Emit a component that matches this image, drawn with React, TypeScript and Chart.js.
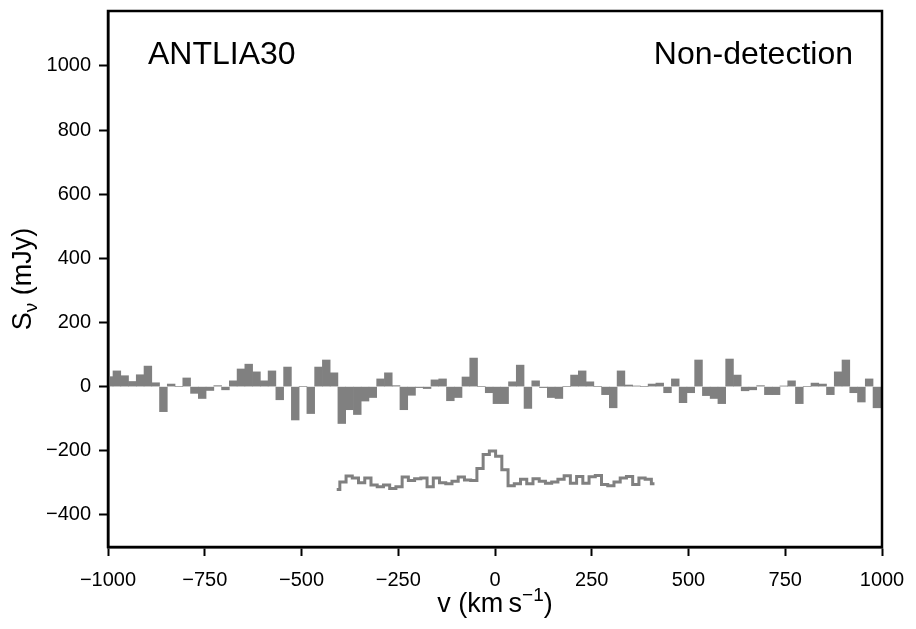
import React, { useEffect, useRef } from "react";
import { Chart, registerables } from "chart.js";

Chart.register(...registerables);

const FONT = "'Liberation Sans', Arial, Helvetica, sans-serif";

// Main spectrum (histogram) : channel centres from start + i*width
const channelStart = -997.1;
const channelWidth = 20.04;
const fluxValues = [
  31, 49, 34, 16, 37, 64, 12, -78, 8, 0,
  27, -21, -37, -12, 3, -10, 18, 55, 70, 46,
  18, 49, -41, 61, -104, 0, -84, 61, 83, 43,
  -115, -72, -87, -45, -34, 24, 43, 3, -72, -27,
  -3, -6, 21, 24, -44, -34, 30, 89, 0, -19,
  -53, -53, 15, 67, -68, 18, -3, -34, -37, 0,
  36, 49, 15, 0, -25, -66, 49, 5, 2, 0,
  8, 11, -19, 24, -50, -19, 83, -28, -37, -53,
  86, 36, -13, -10, 3, -25, -25, 2, 18, -53,
  0, 11, 8, -25, 46, 83, -19, -48, 24, -66,
];

// Offset comparison spectrum (step line)
const stackStart = -409;
const stackWidth = 16.1;
const stackValues = [
  -321, -297, -279, -285, -300, -285, -307, -312, -307, -318,
  -312, -282, -293, -287, -285, -312, -285, -300, -303, -295,
  -282, -291, -293, -255, -212, -201, -217, -259, -309, -303,
  -289, -303, -287, -295, -301, -297, -289, -278, -301, -280,
  -301, -281, -277, -305, -309, -297, -285, -280, -305, -285,
  -289, -303,
];

const xTicks = [-1000, -750, -500, -250, 0, 250, 500, 750, 1000];
const yTicks = [-400, -200, 0, 200, 400, 600, 800, 1000];
const xRange = [-1000, 1000];
const yRange = [-500, 1171];

const galaxyName = "ANTLIA30";
const statusLabel = "Non-detection";

const fmt = (v: number) => (v < 0 ? "\u2212" + Math.abs(v) : String(v));

type Part = { t: string; size: number; dy: number };

function drawParts(ctx: CanvasRenderingContext2D, parts: Part[], cx: number, y: number) {
  let total = 0;
  const widths = parts.map((p) => {
    ctx.font = `${p.size}px ${FONT}`;
    const w = ctx.measureText(p.t).width;
    total += w;
    return w;
  });
  let x = cx - total / 2;
  ctx.textAlign = "left";
  ctx.textBaseline = "alphabetic";
  parts.forEach((p, i) => {
    ctx.font = `${p.size}px ${FONT}`;
    ctx.fillText(p.t, x, y + p.dy);
    x += widths[i];
  });
}

const decorPlugin = {
  id: "decor",
  afterDraw(chart: any) {
    const { ctx, chartArea: a } = chart;
    ctx.save();
    ctx.strokeStyle = "#000";
    ctx.lineWidth = 2.5;
    ctx.strokeRect(a.left, a.top, a.right - a.left, a.bottom - a.top);

    ctx.fillStyle = "#000";
    ctx.font = `32px ${FONT}`;
    ctx.textBaseline = "alphabetic";
    ctx.textAlign = "left";
    ctx.fillText(galaxyName, a.left + 40, 64);
    ctx.textAlign = "right";
    ctx.fillText(statusLabel, a.right - 29, 64);

    // x axis title
    drawParts(
      ctx,
      [
        { t: "v (km\u2009s", size: 27, dy: 0 },
        { t: "\u22121", size: 19, dy: -11 },
        { t: ")", size: 27, dy: 0 },
      ],
      (a.left + a.right) / 2,
      612
    );

    // y axis title
    ctx.save();
    ctx.translate(31, (a.top + a.bottom) / 2);
    ctx.rotate(-Math.PI / 2);
    drawParts(
      ctx,
      [
        { t: "S", size: 27, dy: 0 },
        { t: "\u03BD", size: 19, dy: 6 },
        { t: " (mJy)", size: 27, dy: 0 },
      ],
      0,
      0
    );
    ctx.restore();
    ctx.restore();
  },
};

export default function App() {
  const ref = useRef<HTMLCanvasElement | null>(null);

  useEffect(() => {
    if (!ref.current) return;
    Chart.defaults.font.family = FONT;
    const barData = fluxValues.map((y, i) => ({ x: channelStart + i * channelWidth, y }));
    const lineData = stackValues.map((y, i) => ({ x: stackStart + i * stackWidth, y }));

    const axisCommon = {
      type: "linear" as const,
      offset: false,
      grid: {
        display: true,
        drawOnChartArea: false,
        drawTicks: true,
        tickLength: 9,
        tickWidth: 2,
        tickColor: "#000",
        offset: false,
      },
      border: { display: true, color: "#000", width: 2.5 },
    };

    const chart = new Chart(ref.current, {
      type: "bar",
      data: {
        datasets: [
          {
            type: "bar",
            data: barData,
            backgroundColor: "#808080",
            borderWidth: 0,
            barPercentage: 1,
            categoryPercentage: 1,
            grouped: false,
          } as any,
          {
            type: "line",
            data: lineData,
            stepped: "middle",
            borderColor: "#808080",
            borderWidth: 3,
            pointRadius: 0,
            fill: false,
          } as any,
        ],
      },
      options: {
        animation: false,
        responsive: false,
        maintainAspectRatio: false,
        layout: { padding: { left: 0, top: 11, right: 34, bottom: 0 } },
        plugins: { legend: { display: false }, tooltip: { enabled: false } },
        scales: {
          x: {
            ...axisCommon,
            min: xRange[0],
            max: xRange[1],
            afterBuildTicks: (s: any) => {
              s.ticks = xTicks.map((v) => ({ value: v }));
            },
            afterFit: (s: any) => {
              s.height = 82;
              s.paddingLeft = 0;
              s.paddingRight = 0;
            },
            ticks: {
              color: "#000",
              font: { size: 20 },
              padding: 12,
              maxRotation: 0,
              autoSkip: false,
              callback: (v: any) => fmt(Number(v)),
            },
          },
          y: {
            ...axisCommon,
            min: yRange[0],
            max: yRange[1],
            afterBuildTicks: (s: any) => {
              s.ticks = yTicks.map((v) => ({ value: v }));
            },
            afterFit: (s: any) => {
              s.width = 108;
              s.paddingTop = 0;
              s.paddingBottom = 0;
            },
            ticks: {
              color: "#000",
              font: { size: 20 },
              padding: 8,
              autoSkip: false,
              callback: (v: any) => fmt(Number(v)),
            },
          },
        } as any,
      },
      plugins: [decorPlugin],
    });
    return () => chart.destroy();
  }, []);

  return (
    <div style={{ position: "absolute", left: 0, top: 0, width: 916, height: 629 }}>
      <canvas ref={ref} width={916} height={629} style={{ width: 916, height: 629, display: "block" }} />
    </div>
  );
}
